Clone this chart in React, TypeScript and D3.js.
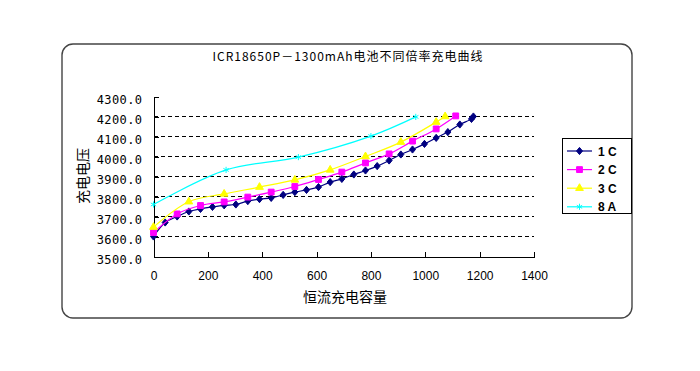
import * as React from 'react'
import * as d3 from 'd3'

const { useEffect, useRef } = React

// charge capacity (mAh) vs voltage (mV)
const cap1C = [0, 43, 87, 130, 173, 217, 260, 303, 347, 390, 433, 477, 520, 563, 607, 650, 693, 737, 780, 823, 867, 910, 953, 997, 1040, 1083, 1127, 1170, 1177]
const volt1C = [3600, 3670, 3700, 3725, 3738, 3748, 3756, 3760, 3777, 3787, 3793, 3808, 3822, 3833, 3847, 3872, 3888, 3910, 3930, 3952, 3980, 4010, 4035, 4063, 4093, 4122, 4160, 4188, 4200]
const cap2C = [0, 87, 173, 260, 347, 433, 520, 607, 693, 780, 867, 953, 1040, 1112]
const volt2C = [3620, 3713, 3755, 3773, 3797, 3822, 3850, 3885, 3922, 3968, 4013, 4077, 4138, 4203]
const cap3C = [0, 130, 260, 390, 520, 650, 780, 910, 1040, 1073]
const volt3C = [3647, 3774, 3813, 3847, 3883, 3933, 4000, 4072, 4172, 4200]
const cap8A = [0, 267, 533, 800, 965]
const volt8A = [3760, 3933, 3997, 4102, 4198]

const seriesNames = ['1 C', '2 C', '3 C', '8 A']
const seriesColors = ['#000080', '#FF00FF', '#FFFF00', '#00FFFF']
const xTicks = [0, 200, 400, 600, 800, 1000, 1200, 1400]
const yTicks = [3500, 3600, 3700, 3800, 3900, 4000, 4100, 4200, 4300]

const title = 'ICR18650P－1300mAh电池不同倍率充电曲线'
const xTitle = '恒流充电容量'
const yTitle = '充电电压'

const W = 700
const H = 371

const series = [
  { name: seriesNames[0], color: seriesColors[0], x: cap1C, y: volt1C, shape: 'diamond' },
  { name: seriesNames[1], color: seriesColors[1], x: cap2C, y: volt2C, shape: 'square' },
  { name: seriesNames[2], color: seriesColors[2], x: cap3C, y: volt3C, shape: 'triangle' },
  { name: seriesNames[3], color: seriesColors[3], x: cap8A, y: volt8A, shape: 'asterisk' },
]

function markerPath(shape: string) {
  if (shape === 'diamond') return 'M0,-3.6L3,0L0,3.6L-3,0Z'
  if (shape === 'square') return d3.symbol(d3.symbolSquare, 34)()
  if (shape === 'triangle') return d3.symbol(d3.symbolTriangle, 26)()
  return d3.symbol(d3.symbolAsterisk, 26)()
}

function App() {
  const xAxisRef = useRef<SVGGElement>(null)
  const yAxisRef = useRef<SVGGElement>(null)

  const x = d3.scaleLinear().domain([0, 1400]).range([153.5, 534])
  const y = d3.scaleLinear().domain([3500, 4300]).range([256.5, 96.5])

  useEffect(() => {
    const xa = d3
      .axisBottom(x)
      .tickValues(xTicks)
      .tickSize(-5)
      .tickPadding(15)
      .tickFormat((d) => `${d}`)
    const ya = d3
      .axisLeft(y)
      .tickValues(yTicks)
      .tickSize(-5)
      .tickPadding(11)
      .tickFormat((d) => (+d).toFixed(1))

    const gx = d3.select(xAxisRef.current!).call(xa)
    gx.select('.domain').attr('stroke', '#000').attr('shape-rendering', 'crispEdges')
    gx.selectAll('line').attr('shape-rendering', 'crispEdges')
    gx.selectAll('text')
      .attr('font-family', 'Liberation Sans, Arial, sans-serif')
      .attr('font-size', 12)
      .attr('fill', '#000')

    const gy = d3.select(yAxisRef.current!).call(ya)
    gy.select('.domain').attr('stroke', '#000').attr('shape-rendering', 'crispEdges')
    gy.selectAll('line').attr('shape-rendering', 'crispEdges')
    gy.selectAll('text')
      .attr('font-family', 'DejaVu Sans Mono, monospace')
      .attr('font-size', 12)
      .attr('letter-spacing', 0.4)
      .attr('dy', '0.55em')
      .attr('fill', '#000')
  }, [])

  return (
    <svg width={W} height={H} style={{ position: 'absolute', left: 0, top: 0, background: '#fff' }}>
      <rect x={62} y={44} width={570} height={274} rx={11} fill="#fff" stroke="#444" strokeWidth={1.4} />
      <text
        x={348}
        y={61}
        textAnchor="middle"
        fontFamily="Noto Sans CJK SC, sans-serif"
        fontSize={12}
        letterSpacing={1}
        fill="#000"
      >
        {title}
      </text>

      {/* dashed gridlines */}
      <g shapeRendering="crispEdges">
        {yTicks
          .filter((t) => t > 3500 && t < 4300)
          .map((t) => (
            <line
              key={t}
              x1={x(0)}
              x2={x(1400)}
              y1={y(t)}
              y2={y(t)}
              stroke="#000"
              strokeDasharray="4,3"
              strokeWidth={1}
            />
          ))}
      </g>

      <g ref={xAxisRef} transform={`translate(0,${y(3500)})`} />
      <g ref={yAxisRef} transform={`translate(${x(0)},0)`} />

      <text
        x={345}
        y={302}
        textAnchor="middle"
        fontFamily="Noto Sans CJK SC, sans-serif"
        fontSize={14}
        fill="#000"
      >
        {xTitle}
      </text>
      <text
        transform={`translate(88,176) rotate(-90)`}
        textAnchor="middle"
        fontFamily="Noto Sans CJK SC, sans-serif"
        fontSize={14}
        fill="#000"
      >
        {yTitle}
      </text>

      {series.map((s) => {
        const pts = s.x.map((v, i) => [x(v), y(s.y[i])] as [number, number])
        return (
          <g key={s.name}>
            <path d={d3.line().curve(d3.curveCatmullRom)(pts) ?? ''} fill="none" stroke={s.color} strokeWidth={1.2} />
            {pts.map((p, i) => (
              <path
                key={i}
                d={markerPath(s.shape) ?? ''}
                transform={`translate(${p[0]},${p[1]})`}
                fill={s.shape === 'asterisk' ? 'none' : s.color}
                stroke={s.color}
                strokeWidth={1}
              />
            ))}
          </g>
        )
      })}

      {/* legend */}
      <g>
        <rect x={562} y={138} width={69} height={75} fill="#fff" stroke="#000" strokeWidth={1} shapeRendering="crispEdges" />
        {series.map((s, i) => {
          const ly = 151 + i * 18.6
          return (
            <g key={s.name}>
              <line x1={567} x2={592} y1={ly} y2={ly} stroke={s.color} strokeWidth={1.2} />
              <path
                d={markerPath(s.shape) ?? ''}
                transform={`translate(579.5,${ly})`}
                fill={s.shape === 'asterisk' ? 'none' : s.color}
                stroke={s.color}
              />
              <text
                x={598}
                y={ly + 4.5}
                fontFamily="Liberation Sans, Arial, sans-serif"
                fontWeight="bold"
                fontSize={12}
                fill="#000"
              >
                {s.name}
              </text>
            </g>
          )
        })}
      </g>
    </svg>
  )
}

export default App
